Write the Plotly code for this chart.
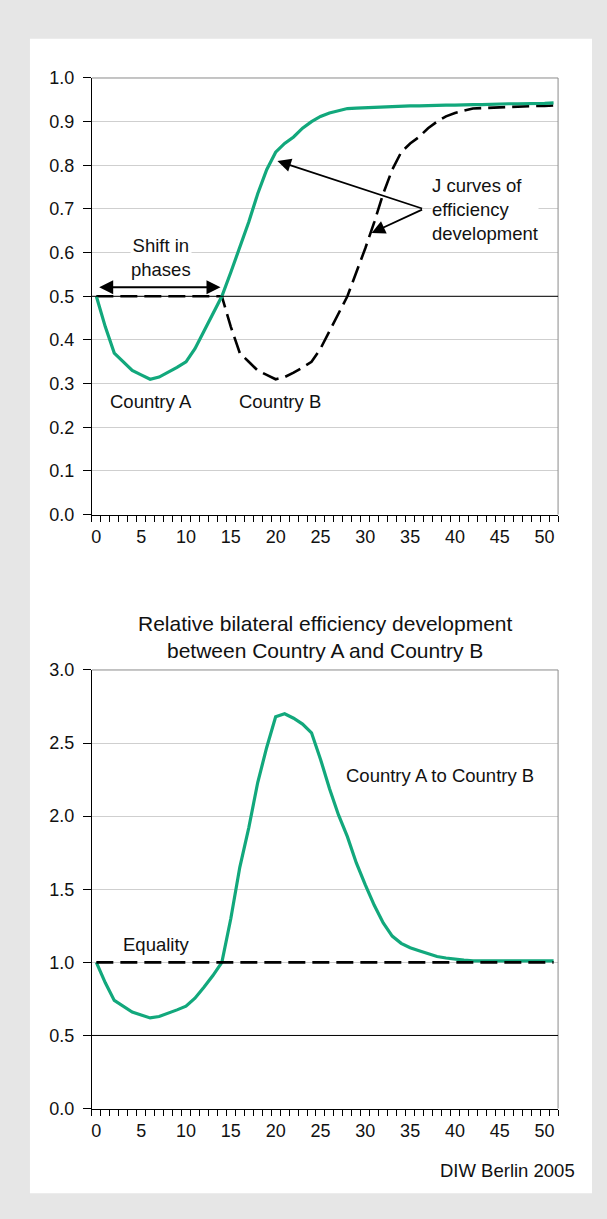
import plotly.graph_objects as go

# ---------------- data ----------------
periods = list(range(0, 52))

country_a = [0.50, 0.43, 0.37, 0.35, 0.33, 0.32, 0.31, 0.315, 0.325, 0.337,
             0.35, 0.38, 0.42, 0.46, 0.50, 0.555, 0.61, 0.67, 0.735, 0.79,
             0.83, 0.85, 0.865, 0.885, 0.90, 0.912, 0.92, 0.925, 0.93, 0.931,
             0.932, 0.933, 0.934, 0.935, 0.935, 0.936, 0.936, 0.937, 0.937, 0.938,
             0.938, 0.939, 0.939, 0.939, 0.940, 0.940, 0.941, 0.941, 0.941, 0.942,
             0.942, 0.943]

country_b = [0.50, 0.50, 0.50, 0.50, 0.50, 0.50, 0.50, 0.50, 0.50, 0.50,
             0.50, 0.50, 0.50, 0.50, 0.50, 0.43, 0.37, 0.35, 0.33, 0.32,
             0.31, 0.315, 0.325, 0.337, 0.35, 0.38, 0.42, 0.46, 0.50, 0.555,
             0.61, 0.67, 0.735, 0.79, 0.83, 0.85, 0.865, 0.885, 0.90, 0.912,
             0.92, 0.925, 0.93, 0.931, 0.932, 0.933, 0.934, 0.935, 0.935, 0.936,
             0.936, 0.937]

ratio_a_to_b = [1.00, 0.86, 0.74, 0.70, 0.66, 0.64, 0.62, 0.63, 0.65, 0.675,
                0.70, 0.755, 0.83, 0.91, 1.00, 1.30, 1.65, 1.92, 2.23, 2.47,
                2.68, 2.70, 2.67, 2.63, 2.57, 2.39, 2.19, 2.01, 1.86, 1.68,
                1.53, 1.39, 1.27, 1.18, 1.13, 1.10, 1.08, 1.06, 1.04, 1.03,
                1.02, 1.015, 1.01, 1.01, 1.01, 1.01, 1.01, 1.01, 1.01, 1.01,
                1.01, 1.01]

equality_level = 1.0
equality = [equality_level] * len(periods)

reference_top = 0.5
reference_bottom = 0.5

x_ticks = [0, 5, 10, 15, 20, 25, 30, 35, 40, 45, 50]
y_ticks_top = [0.0, 0.1, 0.2, 0.3, 0.4, 0.5, 0.6, 0.7, 0.8, 0.9, 1.0]
y_ticks_bottom = [0.0, 0.5, 1.0, 1.5, 2.0, 2.5, 3.0]

title_bottom = "Relative bilateral efficiency development<br>between Country A and Country B"
source_text = "DIW Berlin 2005"

# ---------------- style ----------------
PAGE_W, PAGE_H = 607, 1219
BODY_MARGIN = 8                      # default page margin around the figure
W, H = PAGE_W - 2 * BODY_MARGIN, PAGE_H - 2 * BODY_MARGIN
GREEN = "#12a87c"
FONT = "Liberation Sans, Arial, Helvetica, sans-serif"
TXT = "#111111"
GRID = "#cfcfcf"
FRAME = "#8a8a8a"
BG = "#e6e6e6"


def px_x(p):
    """page pixel -> paper fraction"""
    return (p - BODY_MARGIN) / W


def px_y(p):
    return 1 - (p - BODY_MARGIN) / H


fig = go.Figure()

# top chart
fig.add_trace(go.Scatter(x=periods, y=country_b, mode="lines", name="Country B",
                         line=dict(color="black", width=2.6, dash="17px,7px"),
                         xaxis="x", yaxis="y", hoverinfo="skip"))
fig.add_trace(go.Scatter(x=periods, y=country_a, mode="lines", name="Country A",
                         line=dict(color=GREEN, width=3.2),
                         xaxis="x", yaxis="y", hoverinfo="skip"))

# bottom chart
fig.add_trace(go.Scatter(x=periods, y=ratio_a_to_b, mode="lines", name="Country A to Country B",
                         line=dict(color=GREEN, width=3.2),
                         xaxis="x2", yaxis="y2", hoverinfo="skip"))
fig.add_trace(go.Scatter(x=periods, y=equality, mode="lines", name="Equality",
                         line=dict(color="black", width=2.6, dash="17px,7px"),
                         xaxis="x2", yaxis="y2", hoverinfo="skip"))

x_dom = [px_x(91), px_x(558)]
xaxis_common = dict(
    range=[-0.5, 51.5], tickmode="array", tickvals=x_ticks, ticks="",
    showgrid=False, zeroline=False, showline=True, linecolor="black", linewidth=1,
    tickfont=dict(family=FONT, size=18, color=TXT), ticklabelstandoff=6,
    minor=dict(tickmode="linear", tick0=-0.5, dtick=1, ticks="outside",
               ticklen=6, tickcolor="black", tickwidth=1, showgrid=False),
    fixedrange=True,
)
yaxis_common = dict(
    tickmode="array", ticks="outside", ticklen=8, tickcolor="black", tickwidth=1,
    showgrid=True, gridcolor=GRID, gridwidth=1, zeroline=False,
    showline=True, linecolor="black", linewidth=1,
    tickfont=dict(family=FONT, size=18, color=TXT), tickformat=".1f",
    ticklabelstandoff=5, fixedrange=True,
)

fig.update_layout(
    width=W, height=H,
    margin=dict(l=0, r=0, t=0, b=0),
    paper_bgcolor=BG, plot_bgcolor="rgba(0,0,0,0)",
    showlegend=False,
    font=dict(family=FONT, size=18, color=TXT),
    xaxis=dict(domain=x_dom, anchor="y", **xaxis_common),
    yaxis=dict(domain=[px_y(513), px_y(69)], anchor="x", range=[0, 1],
               tickvals=y_ticks_top, **yaxis_common),
    xaxis2=dict(domain=x_dom, anchor="y2", **xaxis_common),
    yaxis2=dict(domain=[px_y(1117), px_y(671)], anchor="x2", range=[0, 3],
                tickvals=y_ticks_bottom, **yaxis_common),
)

shapes = [
    # white panel
    dict(type="rect", xref="paper", yref="paper", x0=px_x(29), x1=px_x(592),
         y0=px_y(1203), y1=px_y(29), fillcolor="white", line=dict(width=0), layer="below"),
    # plot frames (top and right edges)
    dict(type="line", xref="x domain", yref="y domain", x0=0, x1=1, y0=1, y1=1,
         line=dict(color=FRAME, width=1), layer="above"),
    dict(type="line", xref="x domain", yref="y domain", x0=1, x1=1, y0=0, y1=1,
         line=dict(color=FRAME, width=1), layer="above"),
    dict(type="line", xref="x2 domain", yref="y2 domain", x0=0, x1=1, y0=1, y1=1,
         line=dict(color=FRAME, width=1), layer="above"),
    dict(type="line", xref="x2 domain", yref="y2 domain", x0=1, x1=1, y0=0, y1=1,
         line=dict(color=FRAME, width=1), layer="above"),
    # black reference lines
    dict(type="line", xref="x domain", yref="y", x0=0, x1=1, y0=reference_top, y1=reference_top,
         line=dict(color="black", width=1), layer="above"),
    dict(type="line", xref="x2 domain", yref="y2", x0=0, x1=1, y0=reference_bottom, y1=reference_bottom,
         line=dict(color="black", width=1), layer="above"),
]
fig.update_layout(shapes=shapes)

tf = dict(family=FONT, size=18.5, color=TXT)
annotations = [
    dict(text="Shift in<br>phases", x=7.2, y=0.588, xref="x", yref="y", showarrow=False,
         font=tf, bgcolor="white", borderpad=0),
    dict(text="", x=13.85, y=0.521, ax=0.15, ay=0.521, xref="x", yref="y", axref="x", ayref="y",
         showarrow=True, arrowhead=2, startarrowhead=2, arrowside="end+start",
         arrowsize=1.4, startarrowsize=1.4, arrowwidth=2, arrowcolor="black", standoff=0, startstandoff=0),
    dict(text="Country A", x=6.1, y=0.26, xref="x", yref="y", showarrow=False, font=tf),
    dict(text="Country B", x=20.5, y=0.26, xref="x", yref="y", showarrow=False, font=tf),
    dict(text="J curves of<br>efficiency<br>development", x=37.3, y=0.699, xref="x", yref="y",
         xanchor="left", align="left", showarrow=False, font=tf, bgcolor="white", borderpad=0),
    dict(text="", x=20.2, y=0.81, ax=36.5, ay=0.70, xref="x", yref="y", axref="x", ayref="y",
         showarrow=True, arrowhead=2, arrowsize=1.5, arrowwidth=1.8, arrowcolor="black", standoff=0),
    dict(text="", x=30.7, y=0.645, ax=36.5, ay=0.70, xref="x", yref="y", axref="x", ayref="y",
         showarrow=True, arrowhead=2, arrowsize=1.5, arrowwidth=1.8, arrowcolor="black", standoff=0),
    dict(text="Equality", x=6.7, y=1.12, xref="x2", yref="y2", showarrow=False, font=tf),
    dict(text="Country A to Country B", x=38.3, y=2.28, xref="x2", yref="y2", showarrow=False, font=tf),
    dict(text=title_bottom, x=px_x(325), y=px_y(637), xref="paper", yref="paper",
         yanchor="middle", showarrow=False, font=dict(family=FONT, size=21, color=TXT), align="center"),
    dict(text=source_text, x=px_x(577), y=px_y(1180), xref="paper", yref="paper",
         xanchor="right", yanchor="middle", showarrow=False, font=tf),
]
fig.update_layout(annotations=annotations)

fig.write_html("out.html",
               config={"displayModeBar": False, "staticPlot": True},
               post_script="document.body.style.background='" + BG + "';")
